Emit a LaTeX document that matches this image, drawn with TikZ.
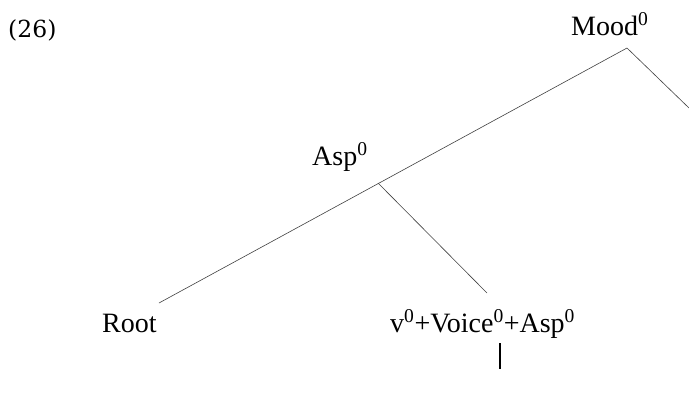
\documentclass[tikz,border=0pt]{standalone}
\usepackage{fontspec}
\setmainfont{Liberation Serif}
\newfontfamily\exfont{DejaVu Serif}
\begin{document}
\begin{tikzpicture}[x=1pt,y=-1pt,
  lab/.style={inner sep=0pt, anchor=base west, font=\fontsize{28}{32}\selectfont},
  branch/.style={line width=0.6pt, draw=black!75},
  bar/.style={line width=2pt, draw=black}]
\useasboundingbox (0,0) rectangle (689,400);
\node[inner sep=0pt, anchor=base west, font=\exfont\fontsize{23.5}{28}\selectfont] (ex) at (8,37) {(26)};
\node[lab] (mood) at (571,35) {Mood\textsuperscript{0}};
\node[lab] (asp) at (312,165) {Asp\textsuperscript{0}};
\node[lab] (root) at (102,332) {Root};
\node[lab] (vva) at (390,332) {v\textsuperscript{0}+Voice\textsuperscript{0}+Asp\textsuperscript{0}};
\coordinate (mtop) at (627,48);
\coordinate (mright) at (689,108);
\coordinate (aj) at (378,183);
\coordinate (rootend) at (159,303);
\coordinate (vend) at (487,293);
\coordinate (bartop) at (500,343);
\coordinate (barbot) at (500,369);
\draw[branch] (mtop) -- (mright);
\draw[branch] (mtop) -- (rootend);
\draw[branch] (aj) -- (vend);
\draw[bar] (bartop) -- (barbot);
\end{tikzpicture}
\end{document}
